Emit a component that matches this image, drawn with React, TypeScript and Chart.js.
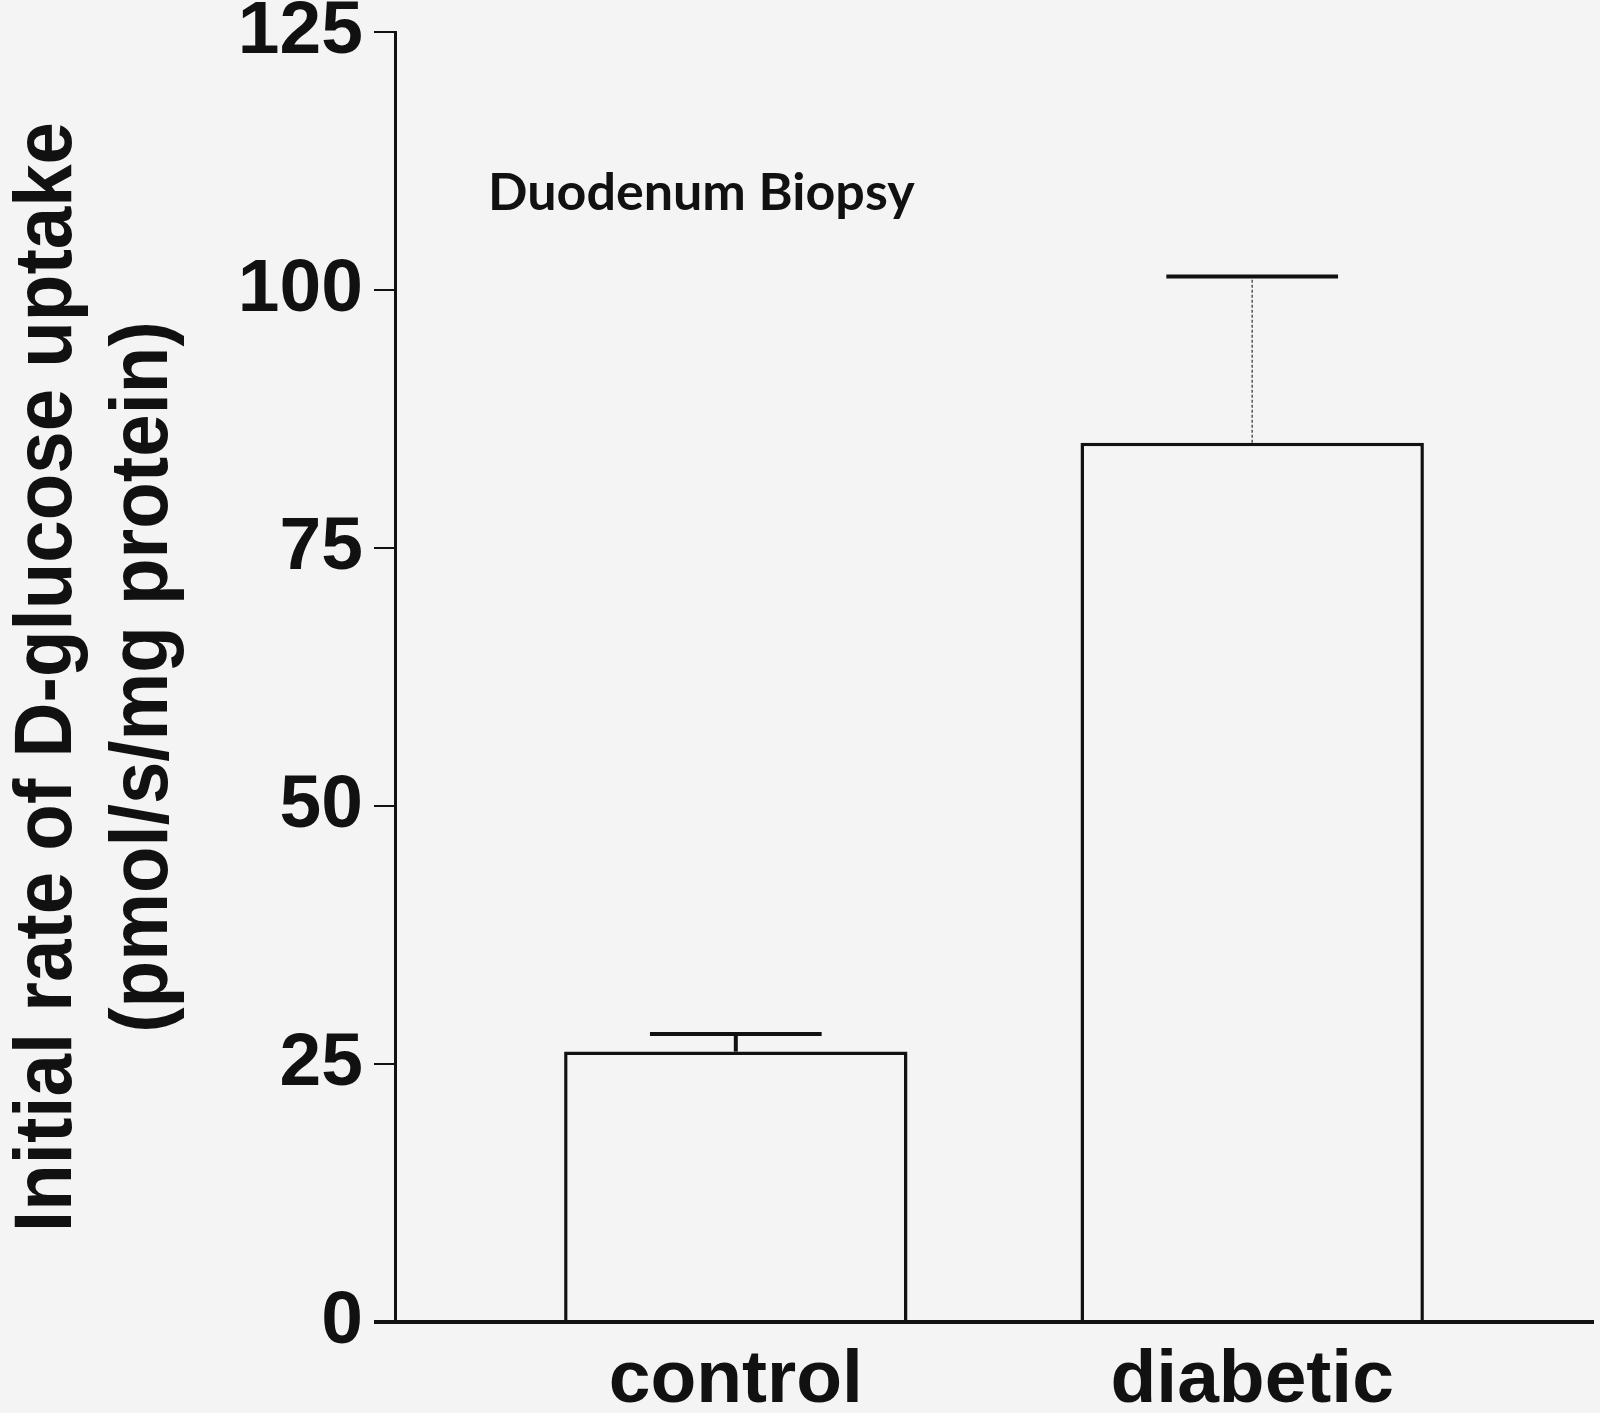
import { useEffect, useRef } from 'react';
import { Chart, registerables } from 'chart.js';

Chart.register(...registerables);

// values
const groups = ['control', 'diabetic'];
const meanUptake = [26.2, 85.2];
const semUptake = [1.7, 16.1];
const yTicks = [0, 25, 50, 75, 100, 125];
const axisTitle = ['Initial rate of D-glucose uptake', '(pmol/s/mg protein)'];
const panelLabel = 'Duodenum Biopsy';

const PAPER = '#f4f4f4';
const INK = '#111111';
const ARIAL = '"Liberation Sans", Arial, Helvetica, sans-serif';

// error bar stems: the control one is heavy, the diabetic one is a faint dotted line
const stemStyles = [
  { width: 4, color: INK, dash: [] },
  { width: 1.5, color: '#555555', dash: [3, 2] },
];

const paperPlugin = {
  id: 'paper',
  beforeDraw(chart) {
    const ctx = chart.ctx;
    ctx.save();
    ctx.fillStyle = PAPER;
    ctx.fillRect(0, 0, chart.width, chart.height);
    ctx.restore();
  },
};

const semPlugin = {
  id: 'semBars',
  afterDatasetsDraw(chart) {
    const ctx = chart.ctx;
    const yScale = chart.scales.y;
    const meta = chart.getDatasetMeta(0);
    ctx.save();
    meta.data.forEach((bar, i) => {
      const { x, y, width } = bar.getProps(['x', 'y', 'width'], true);
      const tip = yScale.getPixelForValue(meanUptake[i] + semUptake[i]);
      const stem = stemStyles[i];
      ctx.beginPath();
      ctx.setLineDash(stem.dash);
      ctx.lineWidth = stem.width;
      ctx.strokeStyle = stem.color;
      ctx.moveTo(x, y);
      ctx.lineTo(x, tip);
      ctx.stroke();

      ctx.beginPath();
      ctx.setLineDash([]);
      ctx.lineWidth = 4;
      ctx.strokeStyle = INK;
      ctx.moveTo(x - width / 4, tip);
      ctx.lineTo(x + width / 4, tip);
      ctx.stroke();
    });
    ctx.restore();
  },
};

const labelsPlugin = {
  id: 'labels',
  afterDraw(chart) {
    const ctx = chart.ctx;
    const { left, top, bottom } = chart.chartArea;
    const mid = (top + bottom) / 2;

    ctx.save();
    ctx.fillStyle = INK;
    ctx.font = `bold 82px ${ARIAL}`;
    ctx.textAlign = 'center';
    ctx.textBaseline = 'alphabetic';
    // the scanned title is a little condensed
    const squeeze = 1110 / ctx.measureText(axisTitle[0]).width;
    const baselines = [71, 167];
    axisTitle.forEach((line, i) => {
      ctx.save();
      ctx.translate(baselines[i], mid);
      ctx.rotate(-Math.PI / 2);
      ctx.scale(squeeze, 1);
      ctx.fillText(line, 0, 0);
      ctx.restore();
    });

    ctx.font = 'bold 52px Lato, "Open Sans", sans-serif';
    ctx.textAlign = 'left';
    ctx.fillText(panelLabel, left + 93, top + 178);
    ctx.restore();
  },
};

export default function App() {
  const canvasRef = useRef(null);

  useEffect(() => {
    document.body.style.margin = '0';
    document.body.style.background = PAPER;

    const chart = new Chart(canvasRef.current, {
      type: 'bar',
      data: {
        datasets: [
          {
            label: 'uptake',
            data: meanUptake.map((v, i) => ({ x: i, y: v })),
            backgroundColor: PAPER,
            borderColor: INK,
            borderWidth: 3.5,
            barPercentage: 0.665,
            categoryPercentage: 1,
          },
        ],
      },
      options: {
        animation: false,
        responsive: true,
        maintainAspectRatio: false,
        devicePixelRatio: 1,
        layout: { padding: { left: 0, top: 32, right: 7, bottom: 0 } },
        plugins: {
          legend: { display: false },
          tooltip: { enabled: false },
        },
        scales: {
          x: {
            type: 'linear',
            offset: false,
            min: -0.66,
            max: 1.66,
            afterBuildTicks: (scale) => {
              scale.ticks = groups.map((_, i) => ({ value: i }));
            },
            afterFit: (scale) => {
              scale.height = 91;
              scale.paddingLeft = 0;
              scale.paddingRight = 0;
            },
            grid: { display: false, drawTicks: false, offset: false },
            border: { display: true, color: INK, width: 4 },
            ticks: {
              color: INK,
              padding: 22,
              maxRotation: 0,
              autoSkip: false,
              font: { family: ARIAL, size: 75, weight: 'bold', lineHeight: 1 },
              callback: (value) => groups[value] ?? '',
            },
          },
          y: {
            min: 0,
            max: 125,
            afterBuildTicks: (scale) => {
              scale.ticks = yTicks.map((v) => ({ value: v }));
            },
            afterFit: (scale) => {
              scale.width = 395;
              scale.paddingTop = 0;
              scale.paddingBottom = 0;
            },
            grid: {
              display: true,
              drawOnChartArea: false,
              drawTicks: true,
              tickLength: 21,
              color: INK,
              lineWidth: (ctx) => (ctx.tick && ctx.tick.value === 0 ? 4 : 2),
            },
            border: { display: true, color: INK, width: 3 },
            ticks: {
              color: INK,
              padding: 11,
              font: { family: ARIAL, size: 75, weight: 'bold', lineHeight: 0.8 },
            },
          },
        },
      },
      plugins: [paperPlugin, semPlugin, labelsPlugin],
    });

    return () => {
      chart.destroy();
    };
  }, []);

  return (
    <div style={{ width: '1600px', height: '1413px', position: 'relative' }}>
      <canvas ref={canvasRef}></canvas>
    </div>
  );
}
